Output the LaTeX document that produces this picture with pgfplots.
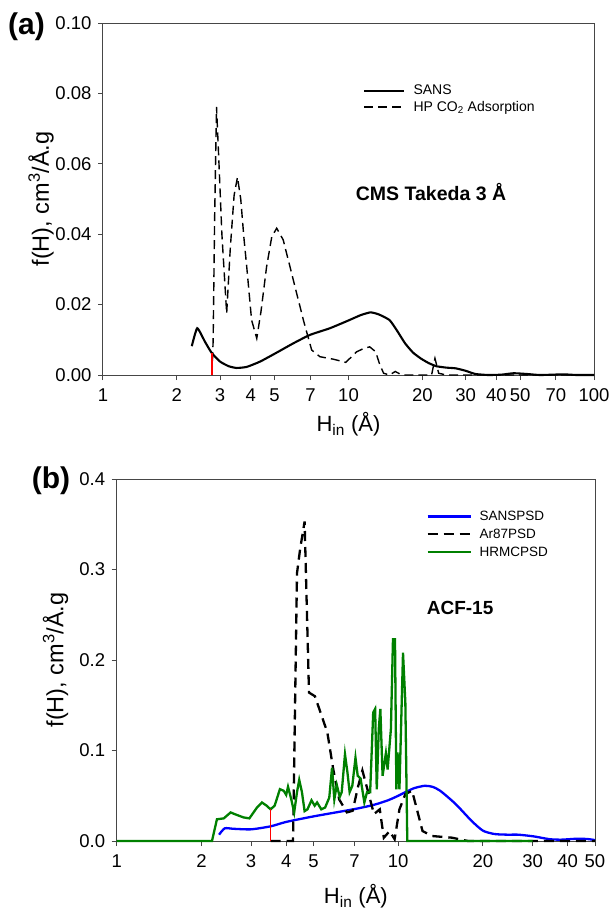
\documentclass[border=0pt]{standalone}
\usepackage{fontspec}
\setmainfont{Liberation Sans}
\usepackage{pgfplots}
\pgfplotsset{compat=1.18}
\definecolor{hgreen}{RGB}{0,128,0}
\definecolor{framegray}{RGB}{70,70,70}
\newcommand{\fs}[1]{\fontsize{#1}{#1}\selectfont}
\pgfplotsset{
  myaxis/.style={
    scale only axis, clip=false,
    axis line style={framegray, line width=1pt},
    tick style={framegray, line width=1pt},
    tick align=outside, xtick pos=bottom, ytick pos=left,
    major tick length=5pt, minor xtick={},
    /pgf/number format/assume math mode=true,
    tick label style={font=\fs{18.5}},
    xticklabel style={yshift=-5pt},
    yticklabel style={xshift=-3pt},
    xlabel style={font=\fs{22}},
    ylabel style={font=\fs{23.5}},
    log ticks with fixed point,
    legend cell align=left,
    legend image code/.code={\draw[##1] (0pt,0pt) -- (40pt,0pt);},
  }
}
\begin{document}
\begin{tikzpicture}
\path[use as bounding box] (0,0) rectangle (611pt,-911pt);
% ---------------- (a)
\begin{semilogxaxis}[myaxis,
  at={(103pt,-375pt)}, anchor=south west,
  width=491pt, height=352pt,
  xmin=1, xmax=100, ymin=0, ymax=0.1,
  xtick={1,2,3,4,5,7,10,20,30,40,50,70,100},
  xticklabels={1,2,3,4,5,7,10,20,30,40,50,70,100},
  ytick={0,0.02,0.04,0.06,0.08,0.1},
  yticklabel style={/pgf/number format/.cd,fixed,fixed zerofill,precision=2},
  xlabel={H\textsubscript{in} (Å)},
  ylabel={f(H), cm\textsuperscript{3}/Å.g},
  xlabel style={at={(axis description cs:0.5,0)}, anchor=north, yshift=-34pt},
  ylabel style={at={(axis description cs:-0.126,0.5)}, anchor=center},
  legend style={at={(rel axis cs:0.53,0.83)}, anchor=north west, draw=none, fill=none,
    font=\fs{14}, row sep=1pt, inner sep=0pt,
    /tikz/every odd column/.append style={column sep=6pt}},
]
\addplot[black, line width=2.1pt, smooth, tension=0.3] coordinates {
(2.30,0.0082) (2.42,0.0133) (2.60,0.0095) (2.77,0.0063) (3.0,0.0038) (3.25,0.0025)
(3.50,0.0020) (3.85,0.0023) (4.36,0.0038) (5.05,0.0062) (5.96,0.0090) (6.97,0.0114)
(8.41,0.0133) (10.0,0.0155) (11.2,0.0170) (12.3,0.0178) (13.3,0.0172) (14.7,0.0156)
(15.8,0.0125) (17.0,0.0090) (18.3,0.0064) (19.7,0.0047) (21.2,0.0034) (22.8,0.0025)
(25.0,0.0021) (27.3,0.0019) (30.0,0.0012) (32.8,0.0003) (37,0.0) (42,0.0001) (47,0.0005)
(53,0.0003) (60,0.0) (68,0.0001) (75,0.0002) (85,0.0) (100,0.0)};
\addlegendentry{SANS}
\addplot[black, line width=1.4pt, dash pattern=on 9pt off 5pt] coordinates {
(2.78,0) (2.81,0.010) (2.85,0.045) (2.90,0.0762) (2.96,0.062) (3.05,0.040) (3.19,0.0175)
(3.30,0.036) (3.42,0.051) (3.53,0.0562) (3.64,0.050) (3.75,0.039) (3.85,0.0308) (4.03,0.0156)
(4.23,0.0104) (4.40,0.018) (4.64,0.0308) (4.87,0.0393) (5.10,0.0417) (5.42,0.0384)
(5.96,0.0270) (6.55,0.0156) (7.08,0.0071) (7.65,0.0052) (8.67,0.0045) (9.74,0.0036)
(10.3,0.0052) (10.8,0.0066) (11.5,0.0075) (12.2,0.0080) (12.9,0.0066) (13.4,0.0030)
(13.9,0.0005) (14.7,0.0) (15.5,0.0010) (16.5,0.0) (21.8,0.0) (22.5,0.0047) (23.3,0.0005)
(25,0.0) (100,0.0)};
\addlegendentry{HP CO\textsubscript{2} Adsorption}
\addplot[red, line width=1.8pt, forget plot] coordinates {(2.77,0) (2.77,0.0063)};
\node[font=\bfseries\fs{19.5}] at (rel axis cs:0.668,0.52) {CMS Takeda 3 Å};
\end{semilogxaxis}
\node[font=\bfseries\fs{30}] at (26.5pt,-26.5pt) {(a)};
% ---------------- (b)
\begin{semilogxaxis}[myaxis,
  at={(116.7pt,-841pt)}, anchor=south west,
  width=478.3pt, height=362pt,
  xmin=1, xmax=50, ymin=0, ymax=0.4,
  xtick={1,2,3,4,5,7,10,20,30,40,50},
  xticklabels={1,2,3,4,5,7,10,20,30,40,50},
  ytick={0,0.1,0.2,0.3,0.4},
  yticklabel style={/pgf/number format/.cd,fixed,fixed zerofill,precision=1},
  xlabel={H\textsubscript{in} (Å)},
  ylabel={f(H), cm\textsuperscript{3}/Å.g},
  xlabel style={at={(axis description cs:0.5,0)}, anchor=north, yshift=-40pt},
  ylabel style={at={(axis description cs:-0.128,0.5)}, anchor=center},
  legend style={at={(rel axis cs:0.647,0.918)}, anchor=north west, draw=none, fill=none,
    font=\fs{13.5}, row sep=3pt, inner sep=0pt,
    /tikz/every odd column/.append style={column sep=6pt}},
  legend image code/.code={\draw[#1] (0pt,0pt) -- (43pt,0pt);},
]
\addplot[blue, line width=2.3pt, smooth, tension=0.4] coordinates {
(2.31,0.0070) (2.42,0.0140) (2.6,0.0135) (3.0,0.0129) (3.52,0.0162) (4.0,0.0211)
(5.0,0.0272) (7.0,0.0353) (8.2,0.0400) (9.2,0.0450) (10.0,0.0500) (11.3,0.0580)
(12.4,0.0610) (13.2,0.0600) (14.1,0.0555) (16.0,0.0408) (18.2,0.0224) (20.0,0.0114)
(22.0,0.0077) (24.5,0.0070) (26.7,0.0070) (30.3,0.0051) (34.5,0.0020) (38,0.0015)
(43,0.0025) (47,0.0022) (50,0.0010)};
\addlegendentry{SANSPSD}
\addplot[black, line width=2.3pt, dash pattern=on 10pt off 6pt] coordinates {
(3.52,0) (4.23,0) (4.37,0.296) (4.48,0.322) (4.65,0.353) (4.82,0.164) (5.06,0.160)
(5.6,0.120) (5.88,0.079) (6.17,0.046) (6.57,0.0316) (6.89,0.0334) (7.20,0.060)
(7.46,0.078) (7.83,0.0536) (8.2,0.0298) (8.6,0.035) (8.89,0.0036) (9.32,0.011)
(9.71,0.002) (10.1,0.035) (10.6,0.0518) (11.2,0.0555) (12.2,0.011) (13.2,0.0055)
(15.5,0.0037) (17.7,0) (50,0)};
\addlegendentry{Ar87PSD}
\addplot[hgreen, line width=2.3pt] coordinates {
(1,0) (2.18,0) (2.27,0.024) (2.40,0.025) (2.54,0.0316) (2.62,0.0298) (2.82,0.0261)
(2.96,0.025) (3.15,0.037) (3.28,0.0426) (3.41,0.039) (3.52,0.035) (3.64,0.039)
(3.80,0.0573) (3.92,0.0555) (4.00,0.051) (4.06,0.0599) (4.17,0.046) (4.27,0.0316)
(4.37,0.054) (4.45,0.0676) (4.55,0.054) (4.65,0.033) (4.76,0.035) (4.92,0.045)
(5.05,0.039) (5.15,0.0426) (5.33,0.035) (5.50,0.037) (5.69,0.048) (5.82,0.081)
(5.93,0.046) (6.05,0.062) (6.20,0.0488) (6.30,0.054) (6.47,0.0959) (6.60,0.076)
(6.72,0.054) (6.87,0.061) (7.05,0.092) (7.18,0.072) (7.35,0.069) (7.58,0.0426)
(7.75,0.054) (7.95,0.054) (8.15,0.142) (8.28,0.146) (8.39,0.057) (8.53,0.124)
(8.64,0.146) (8.80,0.072) (9.04,0.097) (9.17,0.079) (9.42,0.124) (9.58,0.223)
(9.74,0.223) (9.85,0.057) (9.94,0.098) (10.1,0.057) (10.4,0.208) (10.6,0.153)
(10.77,0) (30,0)};
\addlegendentry{HRMCPSD}
\addplot[red, line width=1.8pt, forget plot] coordinates {(3.52,0) (3.52,0.035)};
\node[font=\bfseries\fs{19}] at (rel axis cs:0.718,0.644) {ACF-15};
\end{semilogxaxis}
\node[font=\bfseries\fs{30}] at (51pt,-481pt) {(b)};
\end{tikzpicture}
\end{document}
